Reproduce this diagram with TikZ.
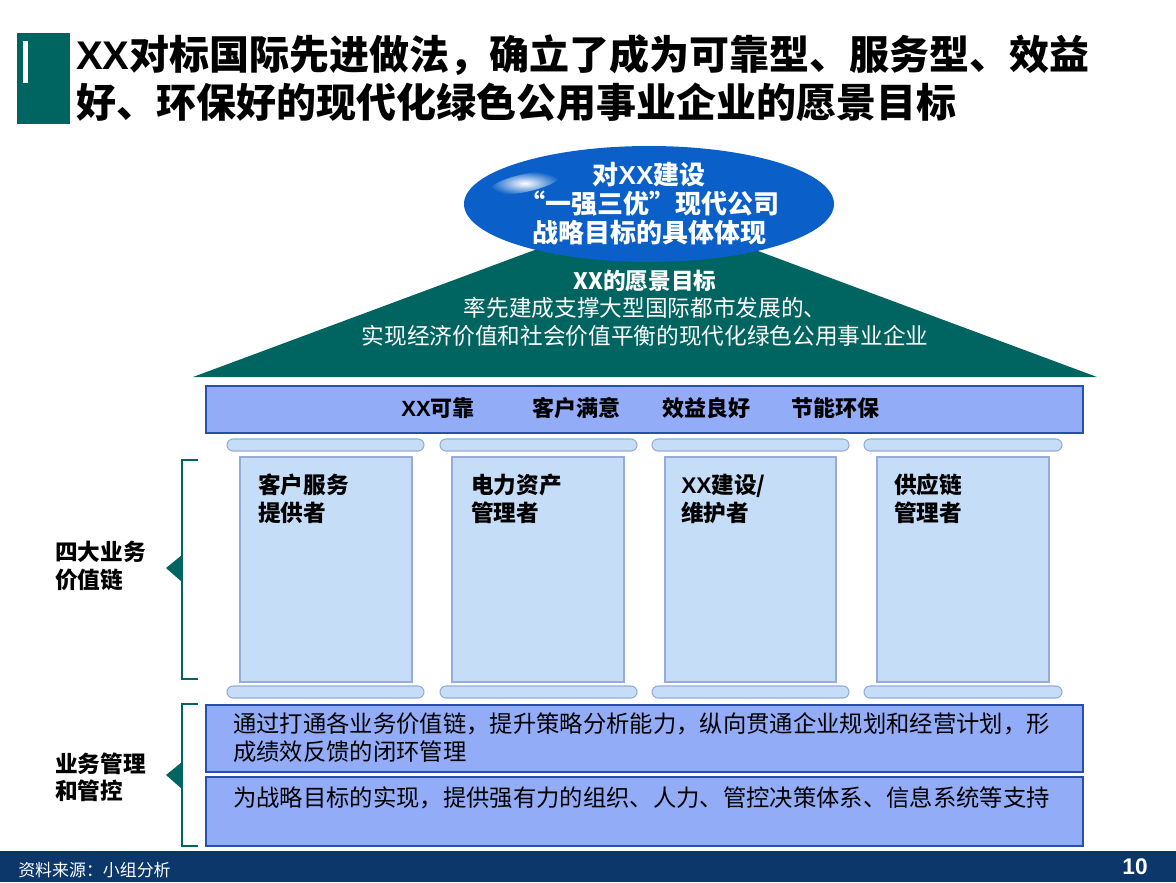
\documentclass[tikz,border=0pt]{standalone}
\usepackage{fontspec}
\setmainfont{Noto Sans CJK SC}
\newfontfamily\latinb{Liberation Sans}
\usetikzlibrary{shapes.geometric}
\definecolor{tealc}{RGB}{0,100,96}
\definecolor{ellblue}{RGB}{10,96,200}
\definecolor{barfill}{RGB}{146,172,248}
\definecolor{barline}{RGB}{40,80,170}
\definecolor{pillfill}{RGB}{197,221,247}
\definecolor{pilline}{RGB}{150,170,220}
\definecolor{navyc}{RGB}{11,55,107}
\tikzset{
  titletxt/.style={anchor=west, inner sep=0pt, font=\fontsize{30}{34}\selectfont\bfseries},
  barbox/.style={draw=barline, line width=0.8pt, fill=barfill},
  pillbox/.style={draw=pilline, line width=0.8pt, fill=pillfill},
  capbox/.style={draw=pilline, line width=0.8pt, fill=pillfill, rounded corners=4.5pt},
  bracket/.style={draw=tealc, line width=1pt},
  pilltxt/.style={anchor=west, inner sep=0pt, align=left, font=\fontsize{17}{21}\selectfont\bfseries},
  sidetxt/.style={anchor=west, inner sep=0pt, align=left, font=\fontsize{17}{20.5}\selectfont\bfseries},
  bottxt/.style={anchor=west, inner sep=0pt, align=left, font=\fontsize{17.5}{21}\selectfont},
  goaltxt/.style={inner sep=0pt, font=\fontsize{16.5}{18}\selectfont\bfseries}
}
\begin{document}
\begin{tikzpicture}[x=0.75pt,y=-0.75pt]
\useasboundingbox (0,0) rectangle (1176,882);
\fill[white] (0,0) rectangle (1176,882);
% title
\fill[tealc] (17,33) rectangle (70,124);
\fill[white] (23,41) rectangle (28,83);
\node[titletxt] (t1) at (76,55) {{\latinb\bfseries XX}对标国际先进做法，确立了成为可靠型、服务型、效益};
\node[titletxt] (t2) at (76,102) {好、环保好的现代化绿色公用事业企业的愿景目标};
% roof
\fill[tealc] (193,377) -- (645,209) -- (1097,377) -- cycle;
\node[ellipse, fill=ellblue, minimum width=277.5pt, minimum height=87pt, inner sep=0pt] (ell) at (649,204) {};
\shade[inner color=white, outer color=ellblue] (525,183) ellipse [x radius=36, y radius=9, rotate=12];
\node[text=white, align=center, inner sep=0pt, font=\fontsize{19.5}{21.75}\selectfont\bfseries] (elltxt) at (649,204)
  {对{\latinb\bfseries XX}建设\\“一强三优”现代公司\\战略目标的具体体现};
\node[text=white, align=center, inner sep=0pt, font=\fontsize{17}{20.6}\selectfont] (vision) at (645,308)
  {\textbf{XX的愿景目标}\\率先建成支撑大型国际都市发展的、\\实现经济价值和社会价值平衡的现代化绿色公用事业企业};
% goals bar
\draw[barbox] (206,386) rectangle (1083,433);
\node[goaltxt] (g1) at (438,408) {{\latinb\bfseries XX}可靠};
\node[goaltxt] (g2) at (576,408) {客户满意};
\node[goaltxt] (g3) at (706,408) {效益良好};
\node[goaltxt] (g4) at (835,408) {节能环保};
% pillars
\foreach \cl/\cr/\bl/\br in {227/424/240/412, 440/637/452/624, 652/849/665/836, 864/1062/877/1049}{
  \draw[capbox] (\cl,439) rectangle (\cr,451);
  \draw[pillbox] (\bl,457) rectangle (\br,682);
  \draw[capbox] (\cl,686) rectangle (\cr,698);
}
\node[pilltxt] (p1) at (258,499) {客户服务\\提供者};
\node[pilltxt] (p2) at (471,499) {电力资产\\管理者};
\node[pilltxt] (p3) at (681,499) {{\latinb\bfseries XX}建设/\\维护者};
\node[pilltxt] (p4) at (894,499) {供应链\\管理者};
% side brackets
\draw[bracket] (198,460) -- (182,460) -- (182,679) -- (198,679);
\fill[tealc] (166,568) -- (182,555) -- (182,582) -- cycle;
\node[sidetxt] (s1) at (55,566) {四大业务\\价值链};
\draw[bracket] (198,704) -- (182,704) -- (182,846) -- (198,846);
\fill[tealc] (166,775) -- (182,762) -- (182,789) -- cycle;
\node[sidetxt] (s2) at (55,777) {业务管理\\和管控};
% bottom boxes
\draw[barbox] (206,705) rectangle (1083,772);
\node[bottxt] (b1) at (233,738) {通过打通各业务价值链，提升策略分析能力，纵向贯通企业规划和经营计划，形\\成绩效反馈的闭环管理};
\draw[barbox] (206,777) rectangle (1083,846);
\node[bottxt] (b2) at (233,798) {为战略目标的实现，提供强有力的组织、人力、管控决策体系、信息系统等支持};
% footer
\fill[navyc] (0,851) rectangle (1176,882);
\node[anchor=west, text=white, inner sep=0pt, font=\fontsize{12.7}{14}\selectfont] (src) at (18,870) {资料来源：小组分析};
\node[text=white, inner sep=0pt, font=\latinb\fontsize{17}{18}\selectfont\bfseries] (pg) at (1135,867) {10};
\end{tikzpicture}
\end{document}
